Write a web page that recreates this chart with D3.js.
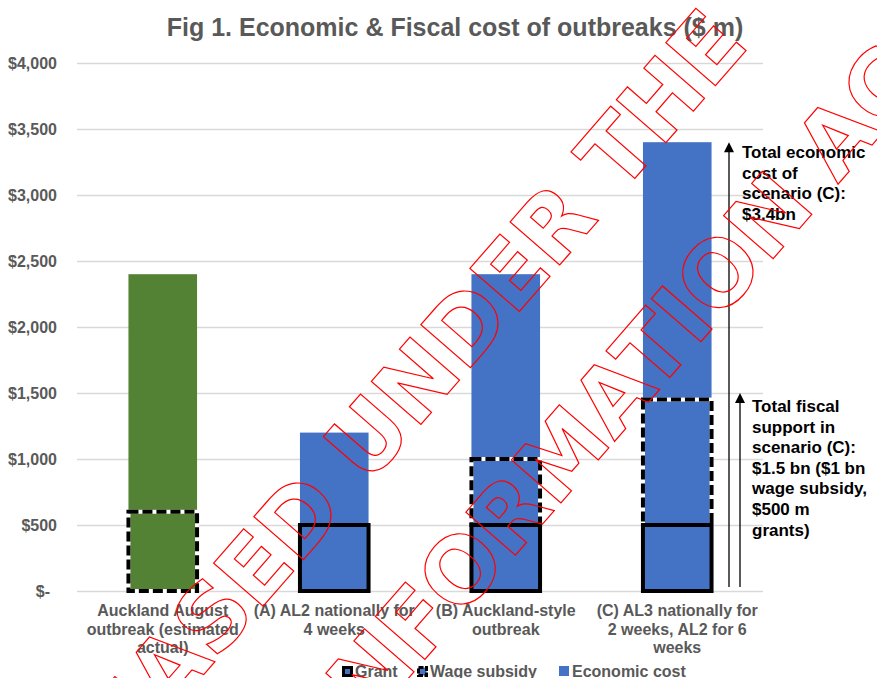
<!DOCTYPE html>
<html>
<head>
<meta charset="utf-8">
<script src="https://cdn.jsdelivr.net/npm/d3@7"></script>
<style>
  html, body { margin: 0; padding: 0; background: #fff; }
  svg { display: block; font-family: "Liberation Sans", Arial, sans-serif; }
</style>
</head>
<body>
<svg id="chart"></svg>
<script>
// chart values
const categoryLabels = [
  ["Auckland August", "outbreak (estimated", "actual)"],
  ["(A) AL2 nationally for", "4 weeks"],
  ["(B) Auckland-style", "outbreak"],
  ["(C) AL3 nationally for", "2 weeks, AL2 for 6", "weeks"]
];
const economicCost = [2400, 1200, 2400, 3400];
const grant = [0, 500, 500, 500];
const wageSubsidy = [600, 0, 500, 950];
const barColors = ["#548235", "#4472C4", "#4472C4", "#4472C4"];
const yTicks = [0, 500, 1000, 1500, 2000, 2500, 3000, 3500, 4000];
const legendLabels = ["Grant", "Wage subsidy", "Economic cost"];

const econNoteValue = 3400;
const econNoteLines = ["Total economic", "cost of", "scenario (C):", "$3.4bn"];
const fiscalNoteValue = 1500;
const fiscalNoteLines = ["Total fiscal", "support in", "scenario (C):", "$1.5 bn ($1 bn", "wage subsidy,", "$500 m", "grants)"];

const watermarkLines = ["RELEASED UNDER THE", "OFFICIAL INFORMATION ACT"];

const WIDTH = 877;
const HEIGHT = 678;
const PLOT = { LEFT: 77, RIGHT: 763, TOP: 63, BOTTOM: 591 };
const GREY = "#595959";
const BLUE = "#4472C4";

let svg = d3.select("#chart")
  .attr("width", WIDTH)
  .attr("height", HEIGHT);

let xScale = d3.scaleBand()
  .domain(d3.range(categoryLabels.length))
  .range([PLOT.LEFT, PLOT.RIGHT])
  .paddingInner(0.6)
  .paddingOuter(0.3);

let yScale = d3.scaleLinear()
  .domain([0, 4000])
  .range([PLOT.BOTTOM, PLOT.TOP]);

// title
svg.append("text")
  .attr("x", 455)
  .attr("y", 36)
  .attr("text-anchor", "middle")
  .style("font-size", "25px")
  .style("font-weight", "bold")
  .style("fill", GREY)
  .text("Fig 1. Economic & Fiscal cost of outbreaks ($ m)");

// y axis with gridlines
let yAxis = svg.append("g")
  .attr("transform", `translate(${PLOT.LEFT},0)`)
  .call(d3.axisLeft(yScale)
    .tickValues(yTicks)
    .tickSize(-(PLOT.RIGHT - PLOT.LEFT))
    .tickPadding(20)
    .tickFormat(d => d === 0 ? "$-" : "$" + d3.format(",")(d)));
yAxis.select(".domain").remove();
yAxis.selectAll(".tick line")
  .attr("stroke", "#d9d9d9")
  .attr("stroke-width", 1.5);
yAxis.selectAll(".tick text")
  .style("font-size", "16px")
  .style("font-weight", "bold")
  .style("font-family", "Liberation Sans, Arial, sans-serif")
  .style("fill", GREY)
  .attr("dx", d => d === 0 ? -7 : 0);

// economic cost bars
svg.selectAll("rect.econ")
  .data(economicCost)
  .enter()
  .append("rect")
    .attr("class", "econ")
    .attr("x", (d, i) => xScale(i))
    .attr("width", xScale.bandwidth())
    .attr("y", d => yScale(d))
    .attr("height", d => yScale(0) - yScale(d))
    .attr("fill", (d, i) => barColors[i]);

// wage subsidy outline boxes (stacked on grant)
let wageIdx = d3.range(wageSubsidy.length).filter(i => wageSubsidy[i] > 0);
svg.selectAll("rect.wage-bg")
  .data(wageIdx)
  .enter()
  .append("rect")
    .attr("class", "wage-bg")
    .attr("x", i => xScale(i))
    .attr("width", xScale.bandwidth())
    .attr("y", i => yScale(grant[i] + wageSubsidy[i]))
    .attr("height", i => yScale(grant[i]) - yScale(grant[i] + wageSubsidy[i]))
    .attr("fill", "none")
    .attr("stroke", "#ffffff")
    .attr("stroke-width", 4);
svg.selectAll("rect.wage")
  .data(wageIdx)
  .enter()
  .append("rect")
    .attr("class", "wage")
    .attr("x", i => xScale(i))
    .attr("width", xScale.bandwidth())
    .attr("y", i => yScale(grant[i] + wageSubsidy[i]))
    .attr("height", i => yScale(grant[i]) - yScale(grant[i] + wageSubsidy[i]))
    .attr("fill", "none")
    .attr("stroke", "#000")
    .attr("stroke-width", 4)
    .attr("stroke-dasharray", "10,4");

// grant outline boxes
let grantIdx = d3.range(grant.length).filter(i => grant[i] > 0);
svg.selectAll("rect.grant")
  .data(grantIdx)
  .enter()
  .append("rect")
    .attr("class", "grant")
    .attr("x", i => xScale(i))
    .attr("width", xScale.bandwidth())
    .attr("y", i => yScale(grant[i]))
    .attr("height", i => yScale(0) - yScale(grant[i]))
    .attr("fill", "none")
    .attr("stroke", "#000")
    .attr("stroke-width", 4);

// category labels
let catText = svg.selectAll("text.cat")
  .data(categoryLabels)
  .enter()
  .append("text")
    .attr("class", "cat")
    .attr("text-anchor", "middle")
    .style("font-size", "16px")
    .style("font-weight", "bold")
    .style("fill", GREY);
catText.selectAll("tspan")
  .data((d, i) => d.map(line => ({ line, i })))
  .enter()
  .append("tspan")
    .attr("x", d => xScale(d.i) + xScale.bandwidth() / 2)
    .attr("y", (d, j) => PLOT.BOTTOM + 25 + j * 18.5)
    .text(d => d.line);

// arrows and notes for scenario (C)
function drawArrow(x, value) {
  let yTop = yScale(value);
  svg.append("line")
    .attr("x1", x).attr("x2", x)
    .attr("y1", yScale(0) - 4)
    .attr("y2", yTop + 6)
    .attr("stroke", "#000")
    .attr("stroke-width", 1.3);
  svg.append("path")
    .attr("d", `M${x},${yTop} L${x - 5},${yTop + 10} L${x + 5},${yTop + 10} Z`)
    .attr("fill", "#000");
}

function drawNote(x, yFirst, lines) {
  svg.append("text")
    .style("font-size", "17px")
    .style("font-weight", "bold")
    .style("fill", "#000")
    .selectAll("tspan")
    .data(lines)
    .enter()
    .append("tspan")
      .attr("x", x)
      .attr("y", (d, j) => yFirst + j * 20.6)
      .text(d => d);
}

drawArrow(729, econNoteValue);
drawNote(742, yScale(econNoteValue) + 16, econNoteLines);
drawArrow(740, fiscalNoteValue);
drawNote(752, yScale(fiscalNoteValue) + 19, fiscalNoteLines);

// legend
const legendX = [342, 417, 559];
let legend = svg.selectAll("g.legend")
  .data(legendLabels)
  .enter()
  .append("g")
    .attr("class", "legend")
    .attr("transform", (d, i) => `translate(${legendX[i]},666)`);
legend.append("rect")
  .attr("x", 1.5).attr("y", 1.5)
  .attr("width", (d, i) => i === 2 ? 10 : 8)
  .attr("height", (d, i) => i === 2 ? 10 : 8)
  .attr("transform", (d, i) => i === 2 ? "translate(-1.5,-1.5)" : null)
  .attr("fill", BLUE)
  .attr("stroke", (d, i) => i === 2 ? "none" : "#000")
  .attr("stroke-width", 3)
  .attr("stroke-dasharray", (d, i) => i === 1 ? "5,1.5" : null);
legend.append("text")
  .attr("x", 13)
  .attr("y", 10.5)
  .style("font-size", "16px")
  .style("font-weight", "bold")
  .style("fill", GREY)
  .text(d => d);

// watermark stamp
svg.append("g")
  .attr("transform", "translate(378,474) rotate(-49)")
  .selectAll("text")
  .data(watermarkLines)
  .enter()
  .append("text")
    .attr("x", 0)
    .attr("y", (d, i) => i * 157)
    .attr("text-anchor", "middle")
    .style("font-family", "DejaVu Sans, sans-serif")
    .style("font-size", "90px")
    .style("font-weight", "bold")
    .style("fill", "none")
    .style("stroke", "#ff0000")
    .style("stroke-width", 1.2)
    .text(d => d);
</script>
</body>
</html>
